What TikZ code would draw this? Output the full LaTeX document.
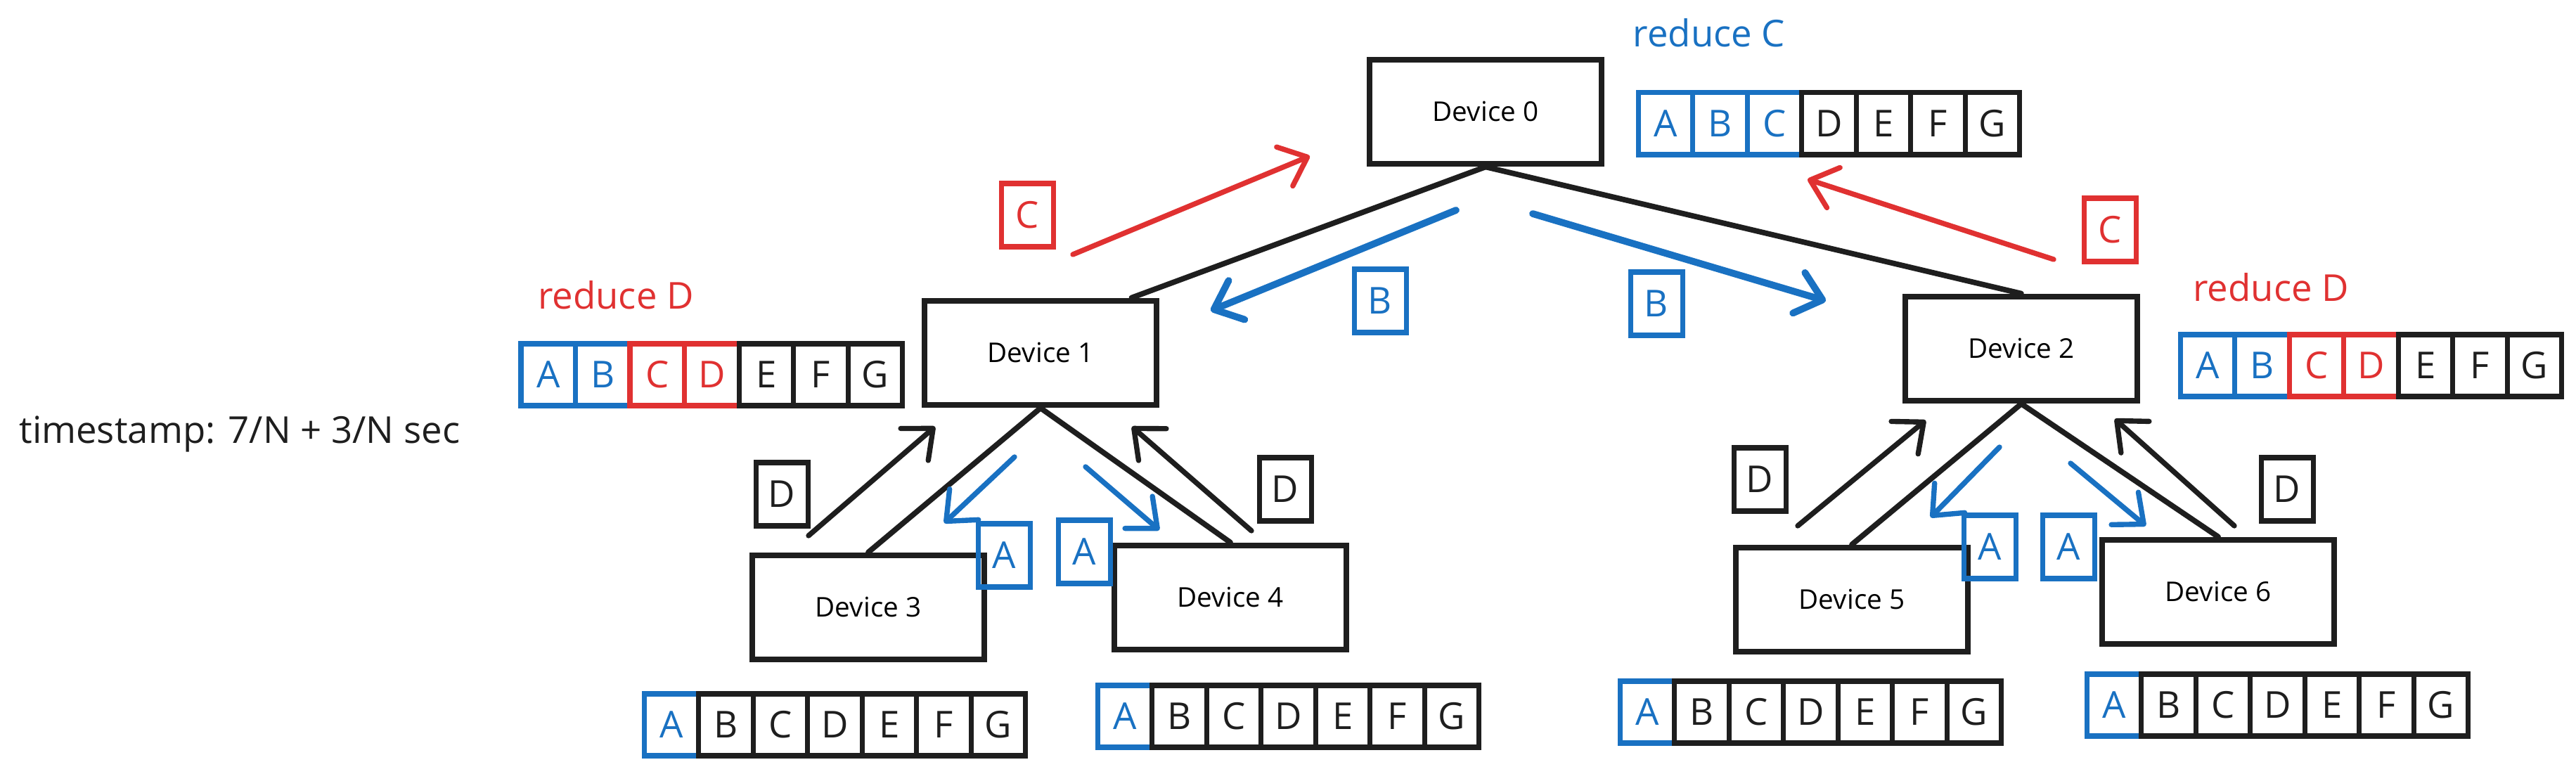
\documentclass[tikz,border=0pt]{standalone}
\usepackage{fontspec}
\setmainfont{Open Sans}
\usetikzlibrary{arrows.meta,calc}

\definecolor{exblue}{HTML}{1971C2}
\definecolor{exred}{HTML}{E03131}
\definecolor{exink}{HTML}{1E1E1E}

\newcommand{\cellrow}[4]{%
  \foreach \l [count=\i] in {A,B,C,D,E,F,G} {
    \ifnum\i>\numexpr#3+#4\relax \def\cc{exink}%
    \else\ifnum\i>#3 \def\cc{exred}\else\def\cc{exblue}\fi\fi
    \node[cell,draw=\cc,text=\cc] (#1-\i) at ($(#2)+({\i*0.775-0.3875},0)$) {\l};
  }
}

\begin{document}
\begin{tikzpicture}[
  device/.style={draw=exink,line width=2.5pt,minimum width=3.3cm,
    minimum height=1.48cm,font=\fontsize{11}{13}\selectfont},
  cell/.style={draw,line width=2pt,minimum width=0.775cm,
    minimum height=0.88cm,inner sep=0pt,font=\fontsize{15}{18}\selectfont},
  tag/.style={cell,minimum width=0.74cm,minimum height=0.9cm},
  link/.style={draw=exink,line width=2.2pt,line cap=round},
  send/.style={line width=2.1pt,line cap=round,
    -{Straight Barb[length=3.5mm,width=6mm,round]}},
  note/.style={font=\fontsize{15}{18}\selectfont}
]
  \useasboundingbox (0,0) rectangle (36.64,11);

  \node[device] (dev0) at (21.13,9.41) {Device 0};
  \node[device] (dev1) at (14.80,5.98) {Device 1};
  \node[device] (dev2) at (28.75,6.04) {Device 2};
  \node[device] (dev3) at (12.35,2.36) {Device 3};
  \node[device] (dev4) at (17.50,2.50) {Device 4};
  \node[device] (dev5) at (26.34,2.47) {Device 5};
  \node[device] (dev6) at (31.55,2.58) {Device 6};

  \draw[link] (dev0.south) -- ([xshift=-4mm]dev1.north east);
  \draw[link] (dev0.south) -- (dev2.north);
  \draw[link] (dev1.south) -- (dev3.north);
  \draw[link] (dev1.south) -- (dev4.north);
  \draw[link] (dev2.south) -- (dev5.north);
  \draw[link] (dev2.south) -- (dev6.north);

  \cellrow{row0}{23.30,9.24}{3}{0}
  \cellrow{row1}{7.41,5.67}{2}{2}
  \cellrow{row2}{31.01,5.80}{2}{2}
  \cellrow{row3}{9.16,0.69}{1}{0}
  \cellrow{row4}{15.61,0.81}{1}{0}
  \cellrow{row5}{23.04,0.87}{1}{0}
  \cellrow{row6}{29.68,0.97}{1}{0}

  \node[note,text=exblue] (red0) at (24.31,10.53) {reduce C};
  \node[note,text=exred] (red1) at (8.76,6.80) {reduce D};
  \node[note,text=exred] (red2) at (32.30,6.91) {reduce D};
  \node[note,text=exink,anchor=west] (stamp) at (0.15,4.83)
    {timestamp: 7/N + 3/N sec};

  \node[tag,draw=exred,text=exred] (tc1) at (14.61,7.94) {C};
  \node[tag,draw=exred,text=exred] (tc2) at (30.01,7.73) {C};
  \node[tag,draw=exblue,text=exblue] (tb1) at (19.63,6.72) {B};
  \node[tag,draw=exblue,text=exblue] (tb2) at (23.56,6.68) {B};
  \node[tag,draw=exink,text=exink] (td1) at (11.12,3.97) {D};
  \node[tag,draw=exink,text=exink] (td2) at (18.28,4.04) {D};
  \node[tag,draw=exink,text=exink] (td3) at (25.03,4.18) {D};
  \node[tag,draw=exink,text=exink] (td4) at (32.53,4.04) {D};
  \node[tag,draw=exblue,text=exblue] (ta1) at (14.28,3.10) {A};
  \node[tag,draw=exblue,text=exblue] (ta2) at (15.42,3.15) {A};
  \node[tag,draw=exblue,text=exblue] (ta3) at (28.30,3.22) {A};
  \node[tag,draw=exblue,text=exblue] (ta4) at (29.42,3.22) {A};

  \coordinate (c1a) at (15.26,7.38); \coordinate (c1b) at (18.63,8.78);
  \coordinate (c2a) at (29.21,7.31); \coordinate (c2b) at (25.71,8.45);
  \coordinate (b1a) at (20.71,8.01); \coordinate (b1b) at (17.22,6.58);
  \coordinate (b2a) at (21.80,7.96); \coordinate (b2b) at (25.97,6.72);
  \coordinate (d1a) at (11.50,3.38); \coordinate (d1b) at (13.30,4.93);
  \coordinate (a1a) at (14.43,4.50); \coordinate (a1b) at (13.43,3.56);
  \coordinate (a2a) at (15.44,4.36); \coordinate (a2b) at (16.49,3.46);
  \coordinate (d2a) at (17.80,3.45); \coordinate (d2b) at (16.10,4.93);
  \coordinate (d3a) at (25.57,3.52); \coordinate (d3b) at (27.39,5.02);
  \coordinate (a3a) at (28.44,4.64); \coordinate (a3b) at (27.46,3.64);
  \coordinate (a4a) at (29.45,4.41); \coordinate (a4b) at (30.52,3.52);
  \coordinate (d4a) at (31.78,3.52); \coordinate (d4b) at (30.08,5.04);

  \draw[send,exred] (c1a) -- (c1b);
  \draw[send,exred] (c2a) -- (c2b);
  \draw[send,exblue,line width=2.8pt] (b1a) -- (b1b);
  \draw[send,exblue,line width=2.8pt] (b2a) -- (b2b);
  \draw[send,exink] (d1a) -- (d1b);
  \draw[send,exink] (d2a) -- (d2b);
  \draw[send,exink] (d3a) -- (d3b);
  \draw[send,exink] (d4a) -- (d4b);
  \draw[send,exblue] (a1a) -- (a1b);
  \draw[send,exblue] (a2a) -- (a2b);
  \draw[send,exblue] (a3a) -- (a3b);
  \draw[send,exblue] (a4a) -- (a4b);
\end{tikzpicture}
\end{document}
